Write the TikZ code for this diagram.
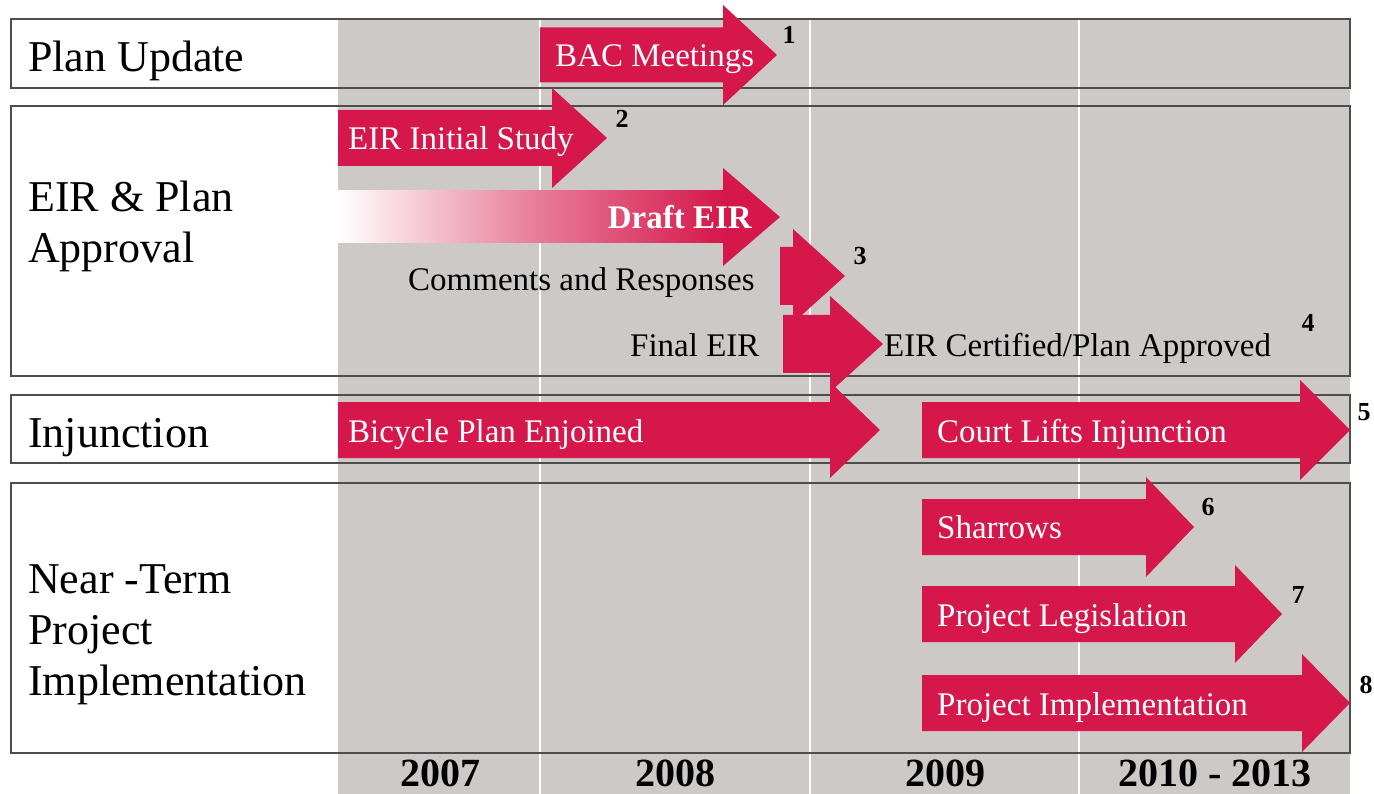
\documentclass[tikz,border=0pt]{standalone}
\usepackage{fontspec}
\setmainfont{Liberation Serif}
\usepackage{tikz}
\tikzset{>=latex}
\usetikzlibrary{positioning}
\definecolor{plan red}{HTML}{D5174B}
\definecolor{plan grey}{HTML}{CDC9C7}
\definecolor{frame grey}{HTML}{4D4D4D}

\tikzset{
    row label/.style={anchor=base west, inner sep=0pt, align=left, font=\fontsize{44}{51}\selectfont},
    bar text/.style={anchor=base west, inner sep=0pt, text=white, font=\fontsize{33}{38}\selectfont},
    note text/.style={anchor=base west, inner sep=0pt, font=\fontsize{33}{38}\selectfont},
    step num/.style={anchor=base, inner sep=0pt, font=\bfseries\fontsize{26}{30}\selectfont},
    year label/.style={anchor=base, inner sep=0pt, font=\bfseries\fontsize{40}{44}\selectfont},
    row frame/.style={draw=frame grey, line width=1.5pt},
}

% start x, head x, tip x, centre y, half body, half head
\newcommand{\bararrow}[6]{%
    \fill[plan red] (#1,#4-#5) -- (#2,#4-#5) -- (#2,#4-#6) -- (#3,#4)
        -- (#2,#4+#6) -- (#2,#4+#5) -- (#1,#4+#5) -- cycle;}

\begin{document}
\begin{tikzpicture}[x=1pt, y=-1pt]
        \useasboundingbox (0,0) rectangle (1374,794);
        % rows, white part
        \foreach \t/\b in {19/88, 106/376, 395/463, 483/753} {
            \fill[white] (11,\t) rectangle (338,\b);
        }
        % time band
        \fill[plan grey] (338,19) rectangle (1350,794);
        \foreach \x in {540, 810, 1079} {
            \draw[white, line width=1.5pt] (\x,19) -- (\x,794);
        }
        \foreach \t/\b in {19/88, 106/376, 395/463, 483/753} {
            \draw[row frame] (11,\t) rectangle (1350,\b);
        }
        % row labels (base = last line)
        \node[row label] (plan) at (28,72) {Plan Update};
        \node[row label] (eir) at (28,263) {EIR \& Plan\\Approval};
        \node[row label] (injunction) at (28,447) {Injunction};
        \node[row label] (nearterm) at (28,695) {Near -Term\\Project\\Implementation};
        % arrows
        \bararrow{540}{723}{777}{55}{27.5}{50}
        \bararrow{338}{552}{607}{138}{28}{50}
        \shade[left color=white, right color=plan red, middle color=plan red!55] (338,191) rectangle (724,243);
        \fill[plan red] (723,191) -- (723,168) -- (780,217) -- (723,266) -- (723,243) -- cycle;
        \bararrow{780}{793}{845}{276}{29}{47}
        \bararrow{783}{830}{883}{344}{29}{48}
        \bararrow{338}{830}{880}{430}{28}{48}
        \bararrow{922}{1300}{1350}{430}{28}{50}
        \bararrow{922}{1146}{1194}{527}{28}{50}
        \bararrow{922}{1235}{1282}{614}{28}{49}
        \bararrow{922}{1302}{1350}{703}{28}{49}
        % arrow texts
        \node[bar text] (bac) at (555,67) {BAC Meetings};
        \node[bar text] (initial) at (348,150) {EIR Initial Study};
        \node[bar text, anchor=base east, font=\bfseries\fontsize{33}{38}\selectfont] (draft) at (752,229) {Draft EIR};
        \node[note text] (comments) at (408,291) {Comments and Responses};
        \node[note text] (final) at (630,356) {Final EIR};
        \node[note text] (certified) at (884,356) {EIR Certified/Plan Approved};
        \node[bar text] (enjoined) at (348,442) {Bicycle Plan Enjoined};
        \node[bar text] (lifts) at (937,442) {Court Lifts Injunction};
        \node[bar text] (sharrows) at (937,538) {Sharrows};
        \node[bar text] (legislation) at (937,626) {Project Legislation};
        \node[bar text] (implementation) at (937,715) {Project Implementation};
        % step numbers
        \foreach \x/\y [count=\i] in {789/44, 622/128, 860/265, 1308/332, 1364/420, 1208/515, 1298/603, 1366/693} {
            \node[step num] (n\i) at (\x,\y) {\i};
        }
        % years
        \foreach \x/\yr [count=\i] in {440/2007, 675/2008, 945/2009, 1215/2010 - 2013} {
            \node[year label] (year\i) at (\x,786) {\yr};
        }
    \end{tikzpicture}
\end{document}
